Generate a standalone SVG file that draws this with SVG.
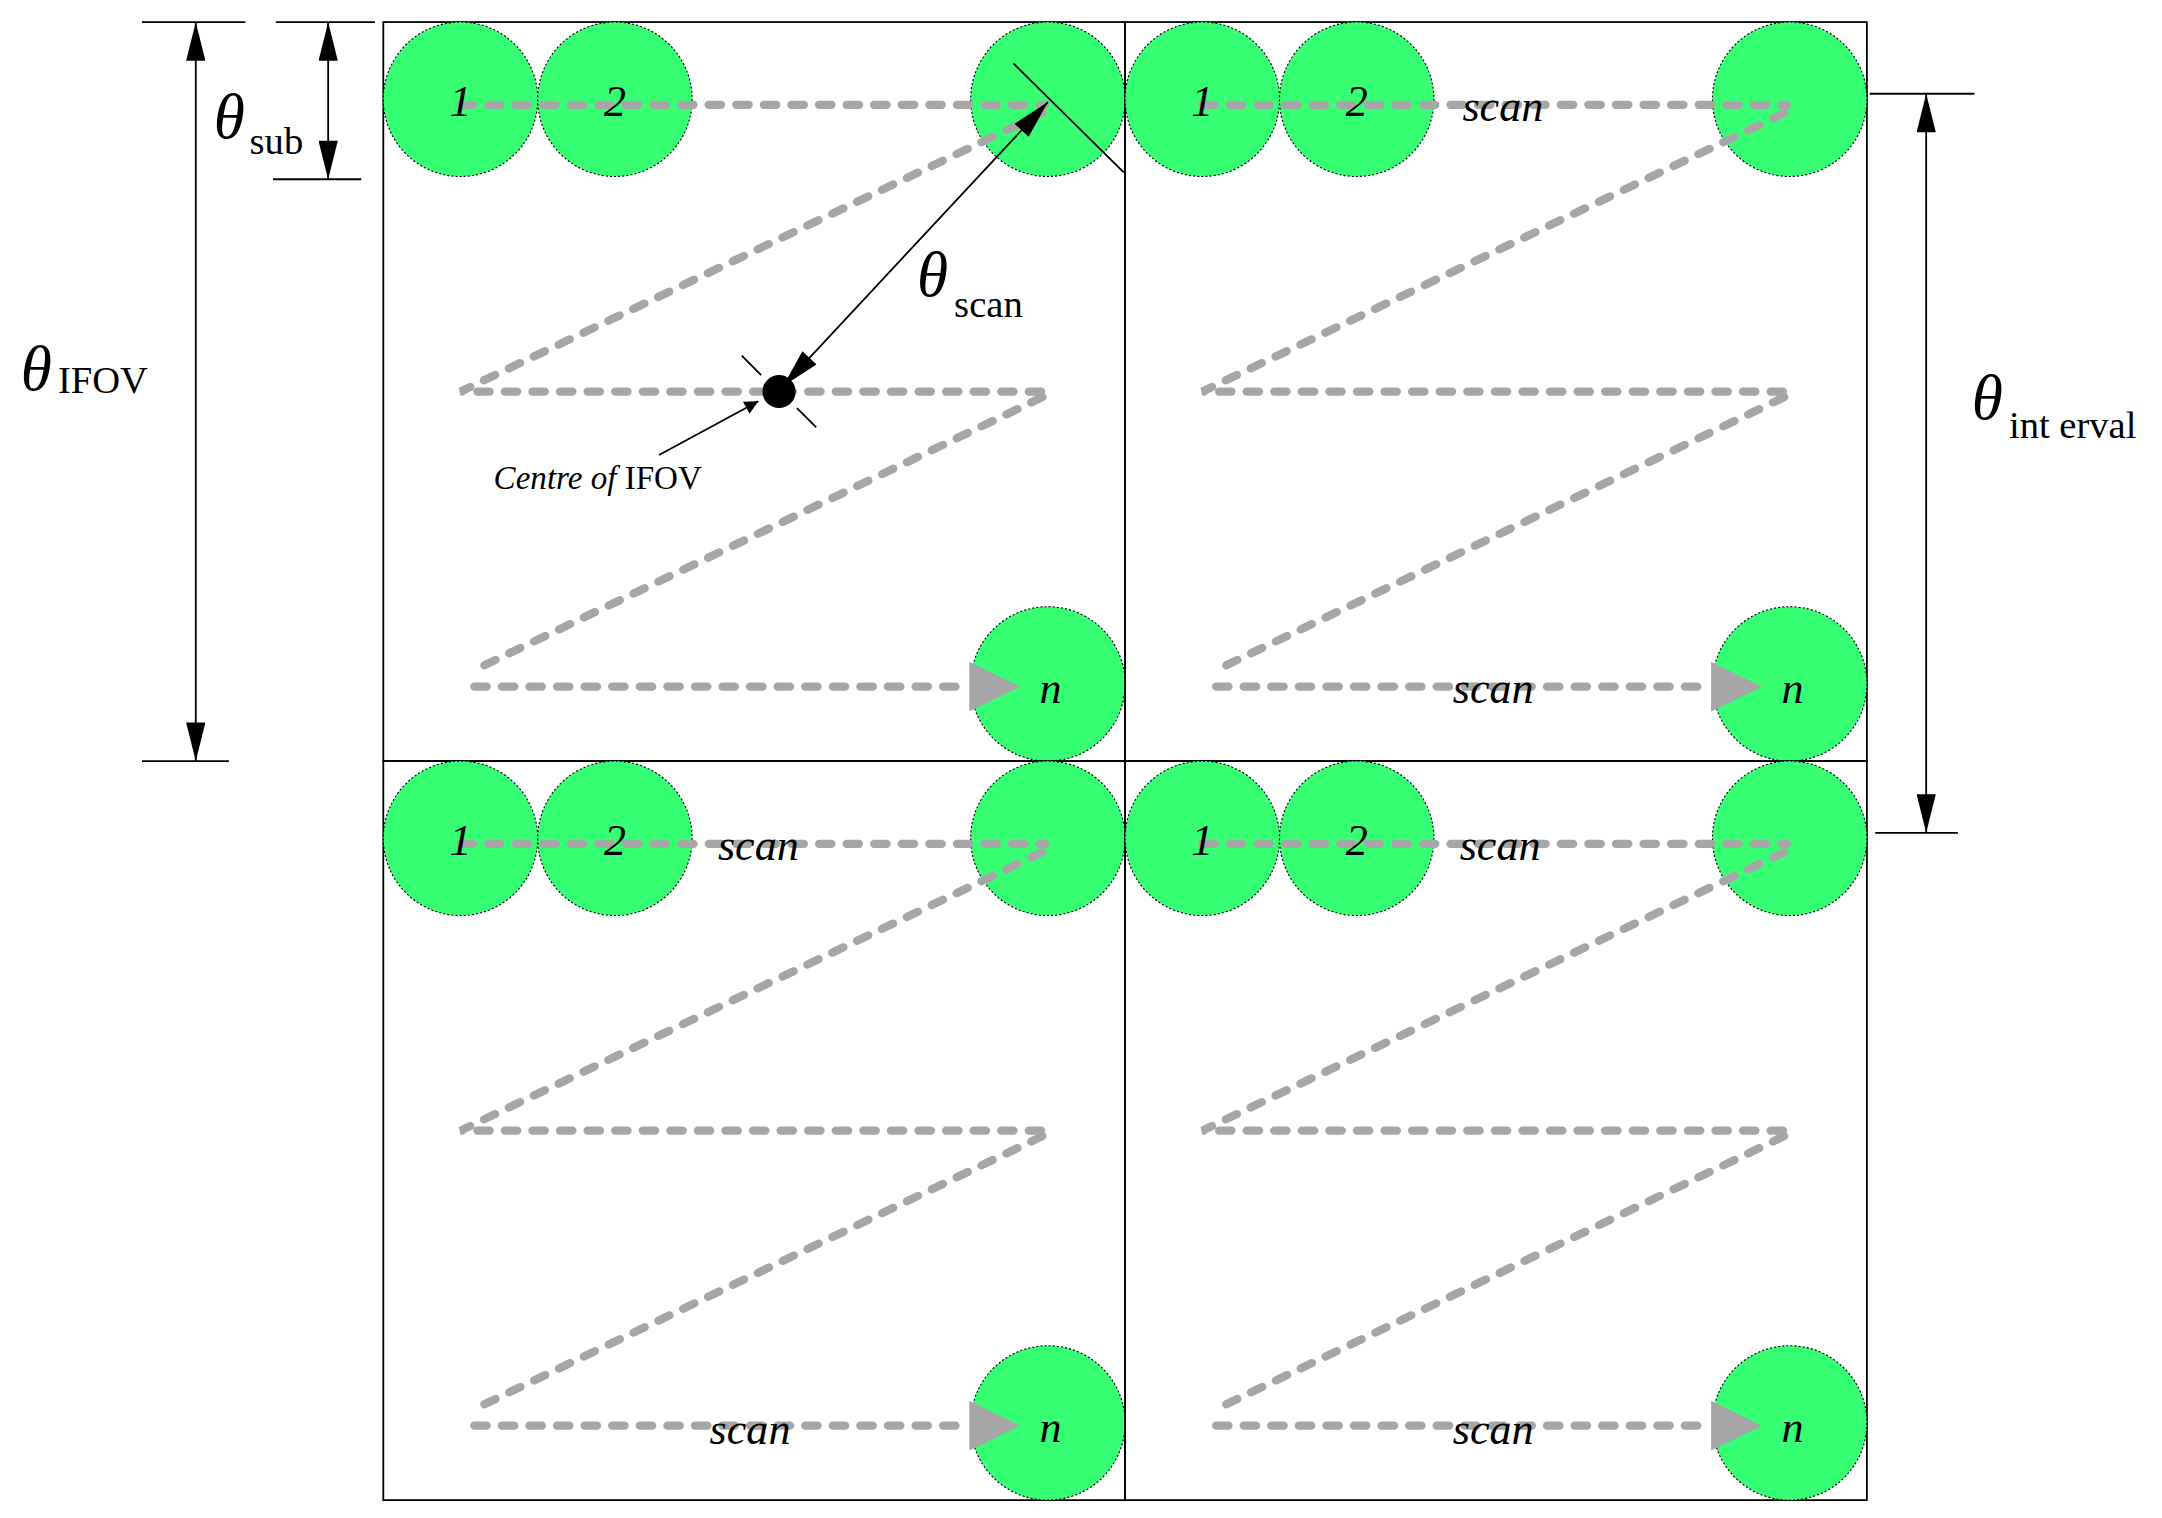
<svg xmlns="http://www.w3.org/2000/svg" xmlns:xlink="http://www.w3.org/1999/xlink" width="2162" height="1518" viewBox="0 0 2162 1518">
<style>
.c{fill:#36ff73;stroke:#000;stroke-width:0.8;stroke-dasharray:1.5 1.5}
.d{fill:none;stroke:#a6a6a6;stroke-width:6;stroke-dasharray:9 11;stroke-linecap:round}
.t{font-family:"Liberation Serif",serif;font-style:italic;font-size:32px;fill:#000;text-anchor:middle}
.r{font-family:"Liberation Serif",serif;fill:#000}
.l{stroke:#000;stroke-width:1.3;fill:none}
.b{fill:none;stroke:#000;stroke-width:1.3}
</style>
<defs>
<marker id="ah" viewBox="0 0 10 10" refX="10" refY="5" markerWidth="10" markerHeight="12" markerUnits="userSpaceOnUse" orient="auto-start-reverse"><path d="M0,0 L10,5 L0,10 z" fill="#000"/></marker>
<marker id="ah2" viewBox="0 0 20 10" refX="20" refY="5" markerWidth="32" markerHeight="14" markerUnits="userSpaceOnUse" orient="auto-start-reverse"><path d="M0,0 L20,5 L0,10 z" fill="#000"/></marker>
<g id="cellbase">
<rect x="0" y="0" width="538" height="536" class="b"/>
<circle class="c" cx="56" cy="56" r="56"/><circle class="c" cx="168" cy="56" r="56"/><circle class="c" cx="482" cy="56" r="56"/><circle class="c" cx="482" cy="480" r="56"/>
<path class="d" d="M56,60 H480 M478,66 L56,268 H480 M478,272 L66,470 M66,482 H425"/>
<polygon points="425,464 462,482 425,500" fill="#a6a6a6"/>
<text class="t" x="56" y="68">1</text><text class="t" x="168" y="68">2</text><text class="t" x="484" y="494">n</text>
</g>
</defs>
<g transform="scale(1.3788)">
<g id="cell-tl"><use xlink:href="#cellbase" x="278" y="16"/></g>
<g id="cell-tr"><use xlink:href="#cellbase" x="816" y="16"/><text class="t" x="1090" y="88">scan</text><text class="t" x="1083" y="510">scan</text></g>
<g id="cell-bl"><use xlink:href="#cellbase" x="278" y="552"/><text class="t" x="550" y="624">scan</text><text class="t" x="544" y="1047">scan</text></g>
<g id="cell-br"><use xlink:href="#cellbase" x="816" y="552"/><text class="t" x="1088" y="624">scan</text><text class="t" x="1083" y="1047">scan</text></g>
<g id="connectors">
<path class="l" d="M103,16 H178 M103,552 H166 M200,16 H272 M198,130 H262 M1356,68 H1432 M1360,604 H1420"/>
<line class="l" x1="142" y1="16" x2="142" y2="552" marker-start="url(#ah2)" marker-end="url(#ah2)"/>
<line class="l" x1="238" y1="16" x2="238" y2="130" marker-start="url(#ah2)" marker-end="url(#ah2)"/>
<line class="l" x1="1397" y1="68" x2="1397" y2="604" marker-start="url(#ah2)" marker-end="url(#ah2)"/>
<line class="l" x1="760" y1="74" x2="568" y2="280" marker-start="url(#ah2)" marker-end="url(#ah2)"/>
<line class="l" x1="735" y1="46" x2="815" y2="125"/>
<circle cx="565" cy="284" r="12" fill="#000"/>
<path class="l" d="M538,258 L552,272 M578,296 L592,310"/>
<line class="l" x1="478" y1="330" x2="550" y2="291" marker-end="url(#ah)"/>
</g>
<g id="labels">
<text class="r" x="15" y="283" font-size="46" font-style="italic">θ</text><text class="r" x="42" y="285" font-size="28">IFOV</text>
<text class="r" x="155" y="100" font-size="46" font-style="italic">θ</text><text class="r" x="181" y="112" font-size="28">sub</text>
<text class="r" x="665" y="215" font-size="46" font-style="italic">θ</text><text class="r" x="692" y="230" font-size="28">scan</text>
<text class="r" x="1430" y="304" font-size="46" font-style="italic">θ</text><text class="r" x="1457" y="318" font-size="28">int erval</text>
<text class="r" x="358" y="355" font-size="24"><tspan font-style="italic">Centre of </tspan>IFOV</text>
</g>
</g>
</svg>
